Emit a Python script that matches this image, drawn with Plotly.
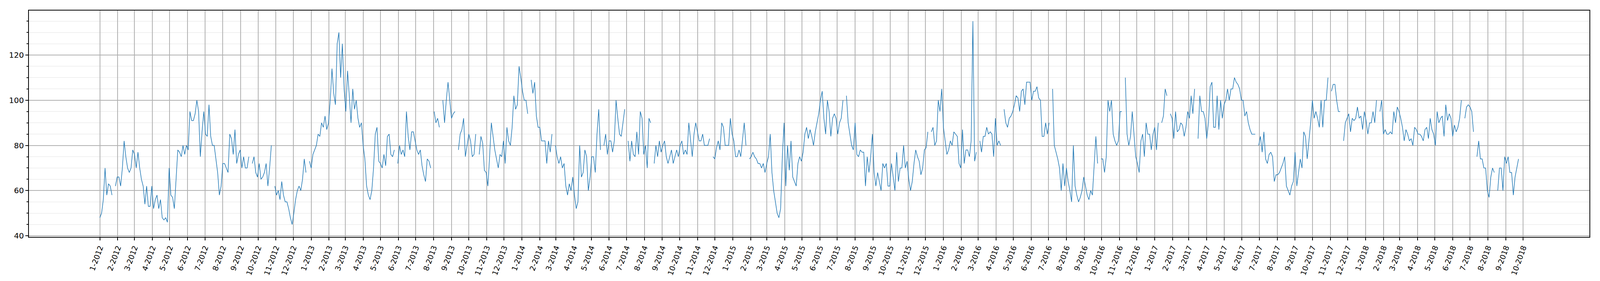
import pandas as pd
import plotly.graph_objects as go

# Values, one sample every 3 days starting 2012-01-01.
# None marks a break in the line.
v2012 = [48, 50, 56, 70, 58, 63, 62, 58, None, 62,
         66, 66, 62, 70, 82, 75, 70, 68, 70, 78,
         76, 70, 77, 70, 65, 62, 54, 62, 53, 53,
         62, 52, 56, 58, 52, 56, 48, 47, 48, 46,
         70, 58, 57, 52, 65, 78, 77, 75, 80, 76,
         80, 78, 95, 91, 91, 94, 100, 95, 75, 86,
         95, 85, 84, 98, 84, 80, 80, 74, 68, 58,
         62, 72, 72, 70, 68, 85, 83, 76, 87, 72,
         76, 78, 70, 75, 70, 70, 75, None, 72, 75,
         68, 66, 72, 65, 66, 68, 72, 62, 70, 80,
         None, 62, 58, 60, 56, 64, 58, 55, 55, 52,
         48, 45, 50, 56, 60, 62, 60, 65, 74, 68,
         None, 73]
v2013 = [70, 76, 78, 80, 85, 84, 90, 88, 93,
         87, 90, 100, 114, 103, 98, 125, 130, 110,
         125, 105, 95, 113, 102, 90, 105, 96, 100, 92,
         88, 90, 80, 74, 62, 58, 56, 60, 70, 85,
         88, 73, 72, 70, 76, 71, 84, 85, 76, 75,
         78, None, 72, 80, 76, 78, 75, 95, 84, 78,
         86, 86, 82, 78, 76, 78, 71, 67, 64, 74,
         73, 70, None, 95, 90, 92, 88, None, 100, 90,
         100, 108, 100, 92, 94, 95, None, 78, 85, 87,
         92, 75, 80, 85, 82, 75, 76, 85, None, 76,
         84, 81, 69, 68, 62, 75, 90, 84, 78, 74,
         70, 76, 75, 82, 72, 88, 82, 80, 88, 102,
         96, 98, 115, 110]
v2014 = [104, 100, 100, 94, None, 109,
         103, 108, 93, 88, 88, 82, 82, 82, 72, 82,
         77, 85, None, 80, 75, 72, 75, 70, 72, 62,
         58, 63, 60, 66, 58, 52, 55, 80, 66, 68,
         78, 75, 60, 66, 75, 75, 68, 85, 96, 78,
         None, 80, 85, 76, 82, 82, 77, 82, 100, 92,
         85, 84, 90, 96, None, 82, 73, 82, 76, 75,
         86, 76, 95, 92, 76, 80, 70, 92, 90, None,
         72, 80, 75, 82, 77, 80, 82, 75, 72, 75,
         78, 72, 75, 78, 75, 80, 82, 76, 78, 76,
         90, 82, 75, 85, 90, 86, 82, 82, 85, 80,
         80, 80, 83, None, 75, 74, 79, 82, 78, 90,
         88, 80, 80, 80, 92, 85]
v2015 = [82, 75, 75, 78,
         75, 82, 90, 80, None, 74, 75, 77, 75, 74,
         72, 72, 70, 72, 68, 72, 75, 85, 68, 60,
         55, 50, 48, 52, 75, 90, 62, 80, 69, 82,
         66, 64, 62, 72, 75, 73, 77, 85, 88, 83,
         87, 84, 80, 86, 90, 94, 100, 104, 92, 85,
         100, 95, 84, 92, 94, 92, 85, 90, 92, 100,
         None, 102, 90, 85, 80, 78, 90, 76, 75, 78,
         77, 77, 62, 75, 68, 75, 85, 68, 62, 68,
         64, 60, 72, 70, 72, 62, 62, 72, 66, 60,
         77, 64, 70, 70, 80, 70, 73, 65, 60, 64,
         72, 78, 75, 73, 67, 70, 78, 79, 86, None,
         86, 88, 80, 82, 100, 95, 105, 88]
v2016 = [82, 76,
         78, 82, 80, 86, 85, 84, 72, 70, 87, 72,
         78, 78, 75, 82, 135, 73, 77, None, 82, 77,
         84, 84, 88, 85, 86, 85, 75, 92, 80, 82,
         80, None, 96, 90, 88, 92, 93, 95, 98, 102,
         101, 95, 104, 105, 98, 108, 108, 108, 100, 104,
         104, 106, 101, 100, 84, 84, 90, 85, 90, None,
         105, 80, 77, 74, 70, 60, 72, 62, 70, 64,
         60, 55, 80, 62, 58, 55, 57, 60, 66, 62,
         58, 56, 60, 58, 70, 84, 72, None, 74, 74,
         68, 75, 100, 95, 100, 85, 82, 80, 82, 95,
         95, None, 110, 85, 80, 84, 95, 85, 75, 72,
         68, 82, 85, 75, 90, 85, 85, 78, 85, 88]
v2017 = [78, 90, None, 90, 93, 105, 102, None, 94, 92,
         83, 95, 86, 87, 90, 89, 84, 88, 95, 92,
         102, 94, 105, None, 83, 102, 95, 95, 92, 83,
         90, 106, 108, 88, 88, 102, 87, 100, 92, 98,
         100, 105, 100, 105, 105, 110, 108, 107, 105, 100,
         100, 93, 95, 90, 87, 85, 85, 85, None, 80,
         84, 77, 86, 74, 72, 76, 77, 75, 64, 67,
         67, 68, 70, 72, 75, 62, 60, 58, 62, 64,
         77, 62, 68, 74, 70, 86, 84, 74, 82, 90,
         100, 92, 95, 92, 88, 100, 88, 100, 100, 110,
         None, 104, 107, 107, 100, 95, 95, None, 82, 90,
         92, 94, 86, 92, 91, 92, 97, 92, 93, 87,
         95, 91]
v2018 = [85, 90, 90, 95, 90, 100, None, 95,
         100, 85, 87, 85, 85, 86, 85, 95, 90, 97,
         95, 92, 88, 82, 87, 85, 82, 83, 80, 88,
         87, 85, 85, 84, 82, 87, 88, 83, 92, 87,
         85, 80, 95, 90, 92, 93, 84, 98, 91, 94,
         92, 84, 89, 86, 88, 92, 100, None, 92, 97,
         98, 97, 95, 86, None, 75, 82, 74, 74, 70,
         70, 60, 57, 66, 70, 68, None, 60, 70, 70,
         60, 75, 72, 75, 68, 68, 58, 66, 70, 74]

values = v2012 + v2013 + v2014 + v2015 + v2016 + v2017 + v2018
dates = pd.date_range("2012-01-01", periods=len(values), freq="3D")

# Monthly ticks labelled "month-year"
tick_dates = pd.date_range("2012-01-01", "2018-10-01", freq="MS")
tick_labels = [f"{d.month}-{d.year}" for d in tick_dates]

fig = go.Figure()

fig.add_trace(go.Scatter(
    x=dates,
    y=values,
    mode='lines',
    line=dict(color='#1f77b4', width=1.5),
    connectgaps=False,
    showlegend=False
))

# width is left to the browser window so the whole chart fits in it
fig.update_layout(
    height=720,
    autosize=True,
    margin=dict(l=74, r=27, t=27, b=110, pad=0),
    paper_bgcolor='white',
    plot_bgcolor='white',
    font=dict(family='DejaVu Sans', size=20, color='black'),
    xaxis=dict(
        range=['2011-08-31 03:00', '2019-01-23 20:00'],
        tickmode='array',
        tickvals=tick_dates,
        ticktext=tick_labels,
        tickangle=-70,
        ticks='outside',
        ticklen=7,
        tickwidth=1.5,
        tickcolor='black',
        tickfont=dict(size=19),
        showgrid=True,
        gridcolor='#b0b0b0',
        gridwidth=1.5,
        zeroline=False,
        showline=True,
        mirror=True,
        linecolor='black',
        linewidth=1.5
    ),
    yaxis=dict(
        range=[39.5, 139.7],
        tickmode='linear',
        tick0=40,
        dtick=20,
        ticks='outside',
        ticklen=7,
        tickwidth=1.5,
        tickcolor='black',
        showgrid=True,
        gridcolor='#b0b0b0',
        gridwidth=1.5,
        zeroline=False,
        showline=True,
        mirror=True,
        linecolor='black',
        linewidth=1.5,
        minor=dict(
            tick0=0,
            dtick=5,
            ticks='outside',
            ticklen=4,
            tickcolor='black',
            showgrid=True,
            gridcolor='#e3e3e3',
            gridwidth=1.2
        )
    )
)

fig.write_html(
    "out.html",
    config={'responsive': True, 'displayModeBar': False},
    post_script="document.body.style.margin='0px';"
                "document.body.style.overflow='hidden';"
                "Plotly.Plots.resize(document.getElementById('{plot_id}'));"
)
